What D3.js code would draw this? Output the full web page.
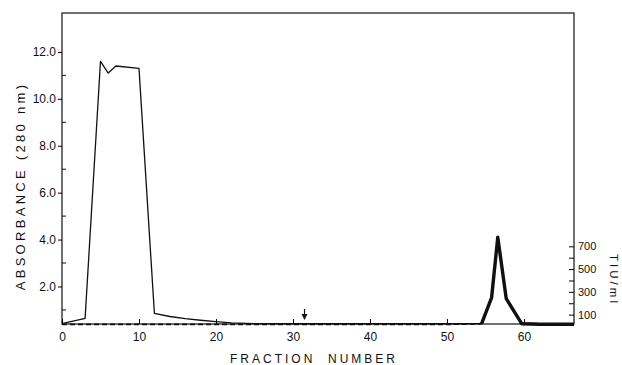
<!DOCTYPE html>
<html>
<head>
<meta charset="utf-8">
<script src="https://cdn.jsdelivr.net/npm/d3@7"></script>
<style>
  body { margin: 0; background: #fff; }
  text { font-family: "Liberation Sans", Arial, sans-serif; fill: #111; }
</style>
</head>
<body>
<script>
//chart values
var absFraction = [0, 3, 5, 6, 7, 10, 12, 14, 16, 18, 20, 22, 25, 30, 40, 50, 54.5, 55.8, 56.6, 57.7, 59.7, 62, 66.5];
var absValue    = [0.42, 0.64, 11.6, 11.1, 11.4, 11.3, 0.85, 0.72, 0.63, 0.56, 0.5, 0.45, 0.42, 0.41, 0.41, 0.41, 0.42, 1.5, 4.0, 1.5, 0.45, 0.42, 0.41];

var tiuFraction = [0, 5, 10, 15, 20, 30, 40, 50, 54.5, 55.8, 56.6, 57.7, 59.7, 62, 66.5];
var tiuValue    = [15, 15, 15, 15, 15, 15, 15, 15, 20, 250, 780, 240, 20, 15, 15];

var xTicks = [0, 10, 20, 30, 40, 50, 60];
var yTicks = [2, 4, 6, 8, 10, 12];
var yMinor = [1, 3, 5, 7, 9, 11];
var tiuTicks = [100, 200, 300, 400, 500, 600, 700];
var tiuLabels = [100, 300, 500, 700];
var arrowFraction = 31.5;

window.onload = drawChart();

function drawChart(){

    var width = 622,
        height = 365;

    var svg = d3.select("body")
        .append("svg")
        .attr("width", width)
        .attr("height", height);

    //plot frame edges
    var left = 62, right = 574, top = 13, bottom = 324;

    var x = d3.scaleLinear().domain([0, 66.5]).range([left, right]);
    var y = d3.scaleLinear().domain([0.4, 13.66]).range([bottom, top]);
    var yTiu = d3.scaleLinear().domain([0, 2750]).range([bottom + 2, top]);

    //frame
    svg.append("rect")
        .attr("x", left).attr("y", top)
        .attr("width", right - left).attr("height", bottom - top)
        .attr("fill", "none").attr("stroke", "#111").attr("stroke-width", 1.2);

    //left axis, major ticks outward
    var yAxis = d3.axisLeft(y).tickValues(yTicks).tickSize(4).tickPadding(2)
        .tickFormat(d3.format(".1f"));
    var gy = svg.append("g").attr("transform", "translate(" + left + ",0)").call(yAxis);
    gy.select(".domain").remove();
    gy.selectAll("text").style("font-size", "12px");

    //minor ticks inward
    svg.selectAll(".yminor").data(yMinor).enter().append("line")
        .attr("x1", left).attr("x2", left + 4)
        .attr("y1", function(d){ return y(d); }).attr("y2", function(d){ return y(d); })
        .attr("stroke", "#111");

    //bottom axis, ticks upward
    var xAxis = d3.axisBottom(x).tickValues(xTicks).tickSizeInner(-5).tickSizeOuter(0).tickPadding(8);
    var gx = svg.append("g").attr("transform", "translate(0," + bottom + ")").call(xAxis);
    gx.select(".domain").remove();
    gx.selectAll("text").style("font-size", "12px");

    //right axis for TIU/ml, ticks inward
    var rAxis = d3.axisRight(yTiu).tickValues(tiuTicks).tickSizeInner(-5).tickSizeOuter(0).tickPadding(4)
        .tickFormat(function(d){ return tiuLabels.indexOf(d) >= 0 ? d : ""; });
    var gr = svg.append("g").attr("transform", "translate(" + right + ",0)").call(rAxis);
    gr.select(".domain").remove();
    gr.selectAll("text").style("font-size", "11px");

    //axis titles
    svg.append("text")
        .attr("transform", "translate(25,186) rotate(-90)")
        .attr("text-anchor", "middle")
        .style("font-size", "13px")
        .style("letter-spacing", "3.3px")
        .text("ABSORBANCE (280 nm)");

    svg.append("text")
        .attr("x", 314).attr("y", 363)
        .attr("text-anchor", "middle")
        .style("font-size", "12px")
        .style("letter-spacing", "3px")
        .attr("xml:space", "preserve")
        .text("FRACTION  NUMBER");

    svg.append("text")
        .attr("transform", "translate(610,280) rotate(90)")
        .attr("text-anchor", "middle")
        .style("font-size", "11.5px")
        .style("letter-spacing", "3px")
        .text("TIU/ml");

    //TIU activity: dashed along the base, heavy over the peak
    var tiuData = tiuFraction.map(function(f, i){ return [f, tiuValue[i]]; });
    var tiuLine = d3.line()
        .x(function(d){ return x(d[0]); })
        .y(function(d){ return yTiu(d[1]); });

    svg.append("path")
        .datum(tiuData.filter(function(d){ return d[0] <= 54.5; }))
        .attr("d", tiuLine)
        .attr("fill", "none").attr("stroke", "#111")
        .attr("stroke-width", 1.8).attr("stroke-dasharray", "5,3");

    svg.append("path")
        .datum(tiuData.filter(function(d){ return d[0] >= 54.5; }))
        .attr("d", tiuLine)
        .attr("fill", "none").attr("stroke", "#111")
        .attr("stroke-width", 3.4).attr("stroke-linejoin", "round");

    //absorbance line
    var absData = absFraction.map(function(f, i){ return [f, absValue[i]]; });
    var absLine = d3.line()
        .x(function(d){ return x(d[0]); })
        .y(function(d){ return y(d[1]); });

    svg.append("path")
        .datum(absData)
        .attr("d", absLine)
        .attr("fill", "none").attr("stroke", "#111")
        .attr("stroke-width", 1.3).attr("stroke-linejoin", "round");

    //arrow marking the buffer change
    var ax = x(arrowFraction);
    svg.append("line")
        .attr("x1", ax).attr("x2", ax)
        .attr("y1", 309).attr("y2", 318)
        .attr("stroke", "#111").attr("stroke-width", 1.2);
    svg.append("path")
        .attr("d", "M" + (ax - 3) + ",314 L" + (ax + 3) + ",314 L" + ax + ",320 Z")
        .attr("fill", "#111");
};
</script>
</body>
</html>
